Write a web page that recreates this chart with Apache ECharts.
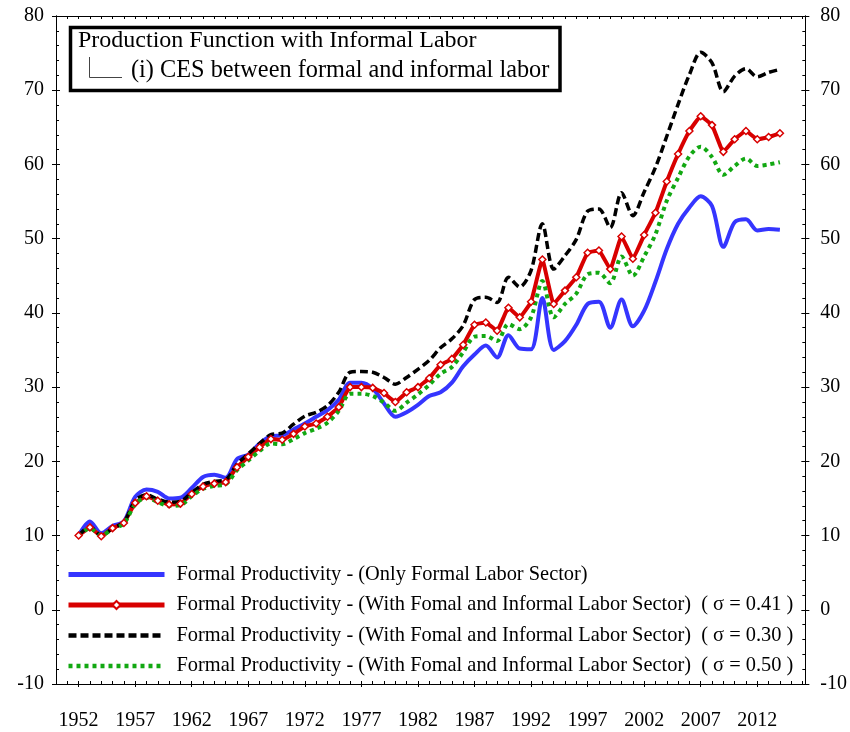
<!DOCTYPE html>
<html>
<head>
<meta charset="utf-8">
<script src="https://cdn.jsdelivr.net/npm/echarts@6/dist/echarts.min.js"></script>
<style>
  html, body { margin: 0; padding: 0; background: #fff; }
  #chart { width: 850px; height: 732px; }
</style>
</head>
<body>
<div id="chart"></div>
<script>
// 年份 1952-2014
const years = [];
for (let y = 1952; y <= 2014; y++) years.push(y);

// Formal Productivity - (Only Formal Labor Sector)
const onlyFormal = [
  10.0, 11.9, 10.3, 11.3, 11.9, 15.2, 16.2, 15.9, 15.0, 15.1,
  16.4, 17.9, 18.2, 17.8, 20.3, 20.9, 22.4, 23.4, 23.5, 24.3,
  25.1, 26.0, 26.9, 28.3, 30.6, 30.6, 29.8, 27.8, 26.0, 26.6,
  27.6, 28.8, 29.3, 30.6, 32.8, 34.4, 35.6, 34.0, 37.0, 35.2,
  35.1, 42.0, 35.0, 36.2, 38.4, 41.2, 41.5, 38.0, 41.8, 38.2,
  40.3, 44.2, 48.6, 52.0, 54.2, 55.7, 54.4, 48.9, 52.2, 52.6,
  51.1, 51.3, 51.2
];
// sigma = 0.41
const sigma041 = [
  10.0, 11.1, 9.9, 11.0, 11.7, 14.4, 15.3, 14.7, 14.2, 14.3,
  15.6, 16.6, 17.0, 17.2, 19.2, 20.6, 21.9, 23.0, 22.9, 23.7,
  24.7, 25.1, 26.0, 27.3, 30.0, 30.0, 29.9, 29.2, 28.0, 29.3,
  30.0, 31.2, 33.0, 33.8, 35.7, 38.4, 38.7, 37.6, 40.7, 39.4,
  41.5, 47.2, 41.2, 43.0, 44.8, 48.1, 48.4, 45.9, 50.3, 47.3,
  50.5, 53.5, 57.7, 61.4, 64.5, 66.5, 65.3, 61.7, 63.4, 64.5,
  63.4, 63.7, 64.2
];
// sigma = 0.30
const sigma030 = [
  10.0, 11.2, 10.0, 11.0, 11.8, 14.7, 15.5, 14.9, 14.5, 14.6,
  15.8, 16.9, 17.3, 17.5, 19.6, 21.0, 22.4, 23.6, 23.8, 25.0,
  26.1, 26.6, 27.5, 29.3, 32.0, 32.1, 32.0, 31.3, 30.4, 31.3,
  32.4, 33.6, 35.3, 36.5, 38.3, 41.8, 42.1, 41.4, 44.8, 43.5,
  45.7, 52.0, 45.9, 47.7, 49.9, 53.7, 54.0, 51.5, 56.2, 53.1,
  56.3, 59.6, 63.8, 68.1, 72.1, 75.1, 73.7, 69.8, 71.9, 72.9,
  71.8, 72.4, 72.8
];
// sigma = 0.50
const sigma050 = [
  9.9, 11.0, 10.0, 10.9, 11.6, 14.2, 15.1, 14.5, 14.0, 14.1,
  15.3, 16.3, 16.7, 16.9, 18.8, 20.1, 21.4, 22.4, 22.3, 23.0,
  23.8, 24.4, 25.2, 26.8, 29.1, 29.1, 28.8, 27.9, 26.8, 27.9,
  29.0, 30.3, 31.8, 32.7, 34.7, 36.8, 36.9, 36.2, 38.5, 37.8,
  39.4, 44.3, 39.4, 41.2, 42.6, 45.2, 45.4, 44.0, 47.6, 45.0,
  47.6, 50.6, 55.1, 58.2, 61.1, 62.4, 61.0, 58.6, 59.8, 60.8,
  59.8, 60.0, 60.3
];

const xLabels = [1952, 1957, 1962, 1967, 1972, 1977, 1982, 1987, 1992, 1997, 2002, 2007, 2012];
const xMinor = [];
for (let y = 1950; y <= 2016; y++) xMinor.push(y);

const seriesNames = [
  'Formal Productivity - (Only Formal Labor Sector)',
  'Formal Productivity - (With Fomal and Informal Labor Sector)  ( σ = 0.41 )',
  'Formal Productivity - (With Fomal and Informal Labor Sector)  ( σ = 0.30 )',
  'Formal Productivity - (With Fomal and Informal Labor Sector)  ( σ = 0.50 )'
];

const pairs = (arr) => arr.map((v, i) => [years[i], v]);
const FONT = 'Liberation Serif';

const chart = echarts.init(document.getElementById('chart'));

const xBase = {
  type: 'value', min: 1950, max: 2016.25,
  splitLine: { show: false },
  axisLine: { show: true, onZero: false, lineStyle: { color: '#000', width: 1 } }
};
const yBase = {
  type: 'value', min: -10, max: 80, interval: 10,
  splitLine: { show: false },
  axisLine: { show: true, lineStyle: { color: '#000', width: 1 } }
};

const option = {
  backgroundColor: '#fff',
  animation: false,
  grid: { left: 56, right: 43, top: 16, bottom: 48 },
  xAxis: [
    // 底部：刻度向外 + 标签
    Object.assign({}, xBase, {
      position: 'bottom',
      axisTick: { show: true, inside: false, length: 3, customValues: xLabels, lineStyle: { color: '#000' } },
      axisLabel: {
        show: true, customValues: xLabels, margin: 27, color: '#000', fontFamily: FONT, fontSize: 20,
        formatter: (v) => String(v)
      }
    }),
    // 底部：向内的小刻度
    Object.assign({}, xBase, {
      position: 'bottom',
      axisTick: { show: true, inside: true, length: 3, customValues: xMinor, lineStyle: { color: '#000' } },
      axisLabel: { show: false }
    }),
    // 顶部
    Object.assign({}, xBase, {
      position: 'top',
      axisTick: { show: true, inside: true, length: 3, customValues: xMinor, lineStyle: { color: '#000' } },
      axisLabel: { show: false }
    })
  ],
  yAxis: [
    Object.assign({}, yBase, {
      position: 'left',
      axisTick: { show: true, inside: true, length: 4, lineStyle: { color: '#000' } },
      minorTick: { show: true, splitNumber: 5, length: 3, lineStyle: { color: '#000' } },
      axisLabel: { show: true, margin: 12, color: '#000', fontFamily: FONT, fontSize: 20 }
    }),
    Object.assign({}, yBase, {
      position: 'left',
      axisTick: { show: true, inside: false, length: 4, lineStyle: { color: '#000' } },
      axisLabel: { show: false }
    }),
    Object.assign({}, yBase, {
      position: 'right',
      axisTick: { show: true, inside: true, length: 4, lineStyle: { color: '#000' } },
      minorTick: { show: true, splitNumber: 5, length: 3, lineStyle: { color: '#000' } },
      axisLabel: { show: true, margin: 15, color: '#000', fontFamily: FONT, fontSize: 20 }
    }),
    Object.assign({}, yBase, {
      position: 'right',
      axisTick: { show: true, inside: false, length: 4, lineStyle: { color: '#000' } },
      axisLabel: { show: false }
    })
  ],
  legend: {
    orient: 'vertical',
    left: 66,
    top: 564,
    padding: 0,
    itemWidth: 96,
    itemHeight: 10,
    itemGap: 9.5,
    textStyle: { color: '#000', fontFamily: FONT, fontSize: 20.4, lineHeight: 21, padding: [0, 0, 0, 7] },
    data: [
      { name: seriesNames[0], lineStyle: { width: 5 }, itemStyle: { opacity: 0 } },
      { name: seriesNames[1], lineStyle: { width: 5 } },
      { name: seriesNames[2], lineStyle: { width: 4.5 }, itemStyle: { opacity: 0 } },
      { name: seriesNames[3], lineStyle: { width: 4.5 }, itemStyle: { opacity: 0 } }
    ]
  },
  graphic: [
    {
      type: 'rect', z: 100,
      shape: { x: 70.5, y: 27.5, width: 489.5, height: 63 },
      style: { fill: '#fff', stroke: '#000', lineWidth: 3.5 }
    },
    {
      type: 'text', z: 101, left: 78, top: 29,
      style: { text: 'Production Function with Informal Labor', fill: '#000', font: '24px "Liberation Serif"' }
    },
    {
      type: 'polyline', z: 101,
      shape: { points: [[89.5, 57], [89.5, 77.5], [122, 77.5]] },
      style: { stroke: '#444', lineWidth: 1, fill: null }
    },
    {
      type: 'text', z: 101, left: 131, top: 59,
      style: { text: '(i) CES between formal and informal labor', fill: '#000', font: '24.3px "Liberation Serif"' }
    }
  ],
  series: [
    {
      name: seriesNames[0], type: 'line', data: pairs(onlyFormal),
      symbol: 'none', smooth: 0.3,
      lineStyle: { color: '#3535ff', width: 4 },
      itemStyle: { color: '#3535ff' }
    },
    {
      name: seriesNames[1], type: 'line', data: pairs(sigma041),
      symbol: 'diamond', symbolSize: 7, smooth: 0.1,
      lineStyle: { color: '#d80000', width: 4 },
      itemStyle: { color: '#fff', borderColor: '#d80000', borderWidth: 1.5 }
    },
    {
      name: seriesNames[2], type: 'line', data: pairs(sigma030),
      symbol: 'none', smooth: 0.3,
      lineStyle: { color: '#000', width: 3.5, type: [8, 4] },
      itemStyle: { color: '#000' }
    },
    {
      name: seriesNames[3], type: 'line', data: pairs(sigma050),
      symbol: 'none', smooth: 0.3,
      lineStyle: { color: '#12a812', width: 4, type: [4, 4] },
      itemStyle: { color: '#12a812' }
    }
  ]
};

chart.setOption(option);
</script>
</body>
</html>
